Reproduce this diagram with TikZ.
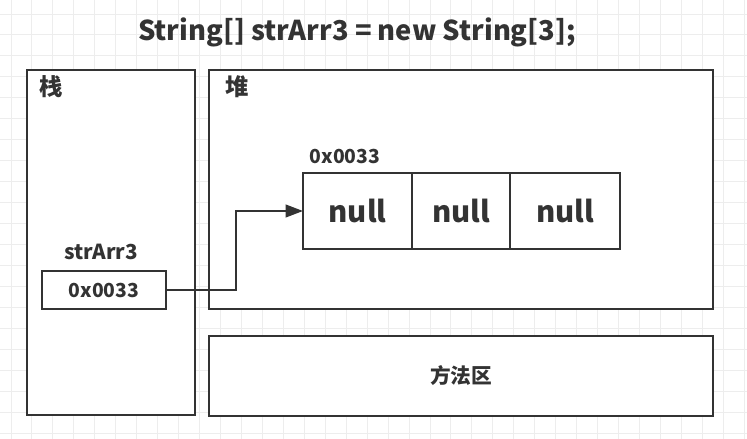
\documentclass[tikz,border=0pt]{standalone}
\usepackage{fontspec}
\setmainfont{Noto Sans CJK SC}
\usetikzlibrary{positioning,arrows.meta}
\definecolor{ink}{HTML}{333333}
\definecolor{gridgray}{HTML}{EDEDED}
\tikzset{
    area/.style={
        draw=ink,line width=1.5pt,fill=white,inner sep=0pt
    },
    cellnode/.style={
        draw=ink,line width=1.5pt,fill=white,inner sep=0pt,outer sep=0pt,minimum height={76*0.75pt},
        text=ink,font=\fontsize{22}{26}\selectfont\bfseries
    },
    labelnode/.style={
        text=ink,inner sep=0pt,font=\fontsize{14.5}{17}\selectfont\bfseries
    },
    gridline/.style={
        draw=gridgray,line width=0.75pt
    },
    ptr/.style={
        draw=ink,line width=1.5pt,-{Triangle[length=13pt,width=9.5pt]}
    }
}

\begin{document}
\begin{tikzpicture}[x=0.75pt,y=-0.75pt]
\useasboundingbox[fill=white] (0,0) rectangle (747,439);
\foreach \i in {0,...,35} \draw[gridline] ({11+\i*20.95},0) -- ++(0,439);
\foreach \j in {0,...,20} \draw[gridline] (0,{14+\j*20.95}) -- ++(747,0);
\node[text=ink,font=\fontsize{20.5}{24}\selectfont\bfseries] (title) at (357,32) {String[] strArr3 = new String[3];};
\node[area,minimum width={168*0.75pt},minimum height={345*0.75pt}] (stack) at (111,242.5) {};
\node[area,minimum width={504*0.75pt},minimum height={239*0.75pt}] (heap) at (461,189.5) {};
\node[area,minimum width={504*0.75pt},minimum height={80*0.75pt},labelnode,font=\fontsize{15.5}{18}\selectfont\bfseries] (method) at (461,376) {方法区};
\node[labelnode,font=\fontsize{17.5}{20}\selectfont\bfseries] (stacklbl) at (51,87) {栈};
\node[labelnode,font=\fontsize{17.5}{20}\selectfont\bfseries] (heaplbl) at (237,87) {堆};
\node[labelnode,font=\fontsize{15.5}{18}\selectfont\bfseries] (varname) at (101,252) {strArr3};
\node[area,labelnode,minimum width={124*0.75pt},minimum height={38*0.75pt}] (ref) at (104,290) {0x0033};
\node[cellnode,minimum width={109*0.75pt}] (cell1) at (357.5,211) {null};
\node[cellnode,minimum width={98*0.75pt},right=0pt of cell1] (cell2) {null};
\node[cellnode,minimum width={110*0.75pt},right=0pt of cell2] (cell3) {null};
\node[labelnode] (addr) at (345,156) {0x0033};
\draw[ptr] (ref.east) -- ++(69,0) |- (cell1.west);
\end{tikzpicture}
\end{document}
